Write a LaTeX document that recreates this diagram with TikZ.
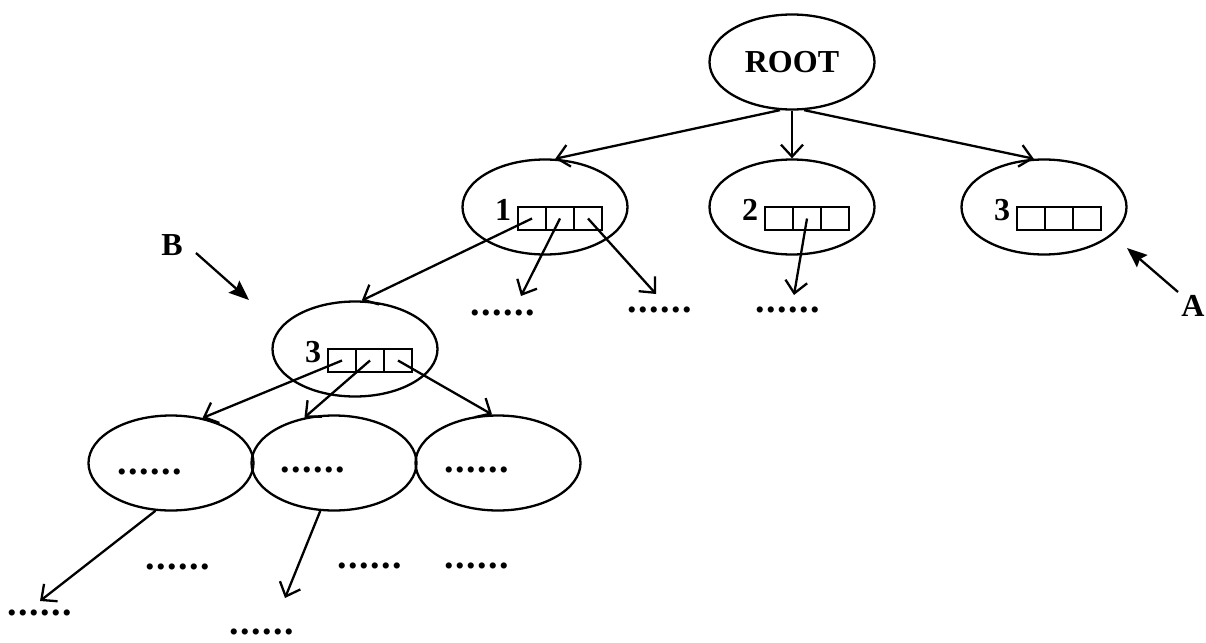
\documentclass[tikz,border=0pt]{standalone}
\usepackage{fontspec}
\setmainfont{Liberation Serif}
\usetikzlibrary{arrows.meta,shapes.geometric}

% a row of six spaced dots
\newcommand\dotrow{{\fontsize{38}{40}\selectfont.\kern1.5pt.\kern1.5pt.\kern1.5pt.\kern1.5pt.\kern1.5pt.}}
% three key cells; #1 name prefix, #2/#3 centre of the first cell
\newcommand\keycells[3]{%
  \node[cell] (#1a) at (#2,#3) {};
  \node[cell] (#1b) at (#2+28,#3) {};
  \node[cell] (#1c) at (#2+56,#3) {};
}

\begin{document}
\begin{tikzpicture}[x=1pt,y=-1pt,
  every node/.style={font=\fontsize{32}{36}\selectfont\bfseries},
  oval/.style={draw, ellipse, line width=2.3pt, minimum width=165pt, minimum height=95pt, inner sep=0pt},
  cell/.style={draw, rectangle, line width=2.2pt, minimum width=28pt, minimum height=23pt, inner sep=0pt},
  link/.style={line width=2.3pt, -{Straight Barb[length=12pt,width=22pt,line width=2.3pt]}},
  pointer/.style={line width=2.3pt, -{Stealth[length=20pt,width=16pt,inset=3pt]}},
  dots/.style={inner sep=0pt}
]
\useasboundingbox (0,0) rectangle (1206,642);

% root and first level
\node[oval] (root) at (792,62) {ROOT};
\node[oval] (n1) at (545,207) {};
\node[oval] (n2) at (792,207) {};
\node[oval] (n3r) at (1044,207) {};

\node (l1) at (503,210) {1};
\node (l2) at (750,210) {2};
\node (l3r) at (1002,210) {3};
\keycells{n1}{532}{218.5}
\keycells{n2}{779}{218.5}
\keycells{n3r}{1031}{218.5}

% second level
\node[oval] (n3) at (355,349) {};
\node (l3) at (313,352) {3};
\keycells{n3}{342}{360.5}

% third level
\node[oval] (e1) at (171,463) {};
\node[oval] (e2) at (334,463) {};
\node[oval] (e3) at (498,463) {};
\node[dots] (t1) at (150,472) {\dotrow};
\node[dots] (t2) at (313,470) {\dotrow};
\node[dots] (t3) at (477,470) {\dotrow};

% loose dot rows
\node[dots] (d1) at (503,313) {\dotrow};
\node[dots] (d2) at (660,310) {\dotrow};
\node[dots] (d3) at (788,310) {\dotrow};
\node[dots] (d4) at (178,567) {\dotrow};
\node[dots] (d5) at (370,566) {\dotrow};
\node[dots] (d6) at (477,566) {\dotrow};
\node[dots] (d7) at (40,613) {\dotrow};
\node[dots] (d8) at (262,632) {\dotrow};

% free arrow ends
\coordinate (k1) at (521,296);
\coordinate (k2) at (656,294);
\coordinate (k3) at (794,295);
\coordinate (k4) at (40,601);
\coordinate (k5) at (285,598);

% tree links
\draw[link] (root.-104) -- (n1.78);
\draw[link] (root.south) -- (n2.north);
\draw[link] (root.-76) -- (n3r.102);

\draw[link] (n1a.center) -- (n3.82);
\draw[link] (n1b.center) -- (k1);
\draw[link] (n1c.center) -- (k2);
\draw[link] (n2b.center) -- (k3);

\draw[link] (n3a.center) -- (e1.55);
\draw[link] (n3b.center) -- (e2.123);
\draw[link] (n3c.center) -- (e3.97);

\draw[link] (e1.-108) -- (k4);
\draw[link] (e2.-106) -- (k5);

% side markers
\node (B) at (172,245) {B};
\node (A) at (1193,306) {A};
\coordinate (btail) at (196,253);
\coordinate (btip) at (249,300);
\coordinate (atail) at (1178,292);
\coordinate (atip) at (1127,248);
\draw[pointer] (btail) -- (btip);
\draw[pointer] (atail) -- (atip);
\end{tikzpicture}
\end{document}
